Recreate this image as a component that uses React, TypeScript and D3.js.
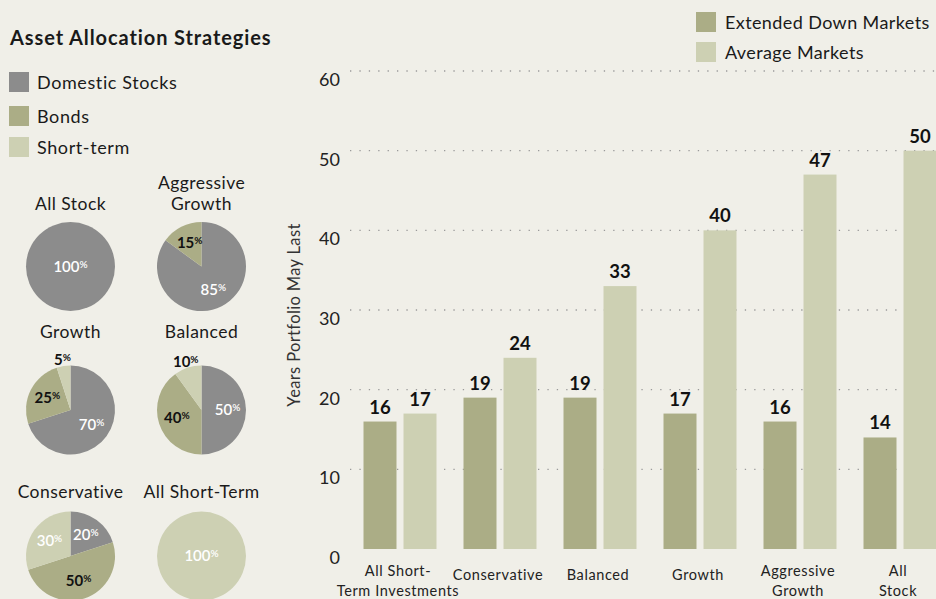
import React, { useRef, useEffect } from "react";
import * as d3 from "d3";

// bar chart data
const categoryLines = [
  ["All Short-", "Term Investments"],
  ["Conservative"],
  ["Balanced"],
  ["Growth"],
  ["Aggressive", "Growth"],
  ["All", "Stock"],
];
const categories = categoryLines.map((l) => l.join(" "));
const seriesNames = ["Extended Down Markets", "Average Markets"];
const extendedDown = [16, 19, 19, 17, 16, 14];
const averageMarkets = [17, 24, 33, 40, 47, 50];
const yTicks = [0, 10, 20, 30, 40, 50, 60];

// pie data
const assetClasses = ["Domestic Stocks", "Bonds", "Short-term"];
const strategyTitles = [
  ["All Stock"],
  ["Aggressive", "Growth"],
  ["Growth"],
  ["Balanced"],
  ["Conservative"],
  ["All Short-Term"],
];
const stockPct = [100, 85, 70, 50, 20, 0];
const bondPct = [0, 15, 25, 40, 50, 0];
const shortPct = [0, 0, 5, 10, 30, 100];

const STOCK = "#8c8c8c";
const BOND = "#abad86";
const SHORT = "#cdd0b3";
const BG = "#f0efe8";
const FONT = "Lato, 'Open Sans', sans-serif";

function App() {
  const svgRef = useRef<SVGSVGElement>(null);

  useEffect(() => {
    const svg = d3.select(svgRef.current);
    svg.selectAll("*").remove();
    const width = 936;
    const height = 599;

    svg.append("rect").attr("width", width).attr("height", height).attr("fill", BG);

    // ---------- left panel ----------
    const left = svg.append("g").attr("font-family", FONT).attr("fill", "#1a1a1a");
    left
      .append("text")
      .attr("x", 10)
      .attr("y", 45)
      .attr("font-size", 20)
      .attr("font-weight", 700)
      .attr("letter-spacing", 0.9)
      .text("Asset Allocation Strategies");

    const legendColor = d3.scaleOrdinal<string, string>().domain(assetClasses).range([STOCK, BOND, SHORT]);
    const legendTops = [72, 106, 137];
    assetClasses.forEach((name, i) => {
      left.append("rect").attr("x", 9).attr("y", legendTops[i]).attr("width", 20).attr("height", 20).attr("fill", legendColor(name));
      left
        .append("text")
        .attr("x", 37)
        .attr("y", legendTops[i] + 16.5)
        .attr("font-size", 18)
        .attr("letter-spacing", 0.6)
        .text(name);
    });

    const colX = [70.5, 201.5];
    const rowY = [266.5, 410, 556];
    const titleBase = [210, 338, 498];
    const r = 44.5;
    const pie = d3
      .pie<{ key: string; value: number }>()
      .sort(null)
      .value((d) => d.value);
    const arc = d3.arc<d3.PieArcDatum<{ key: string; value: number }>>().innerRadius(0).outerRadius(r);
    const inLabel = d3.arc<d3.PieArcDatum<{ key: string; value: number }>>().innerRadius(26).outerRadius(26);
    const outLabel = d3.arc<d3.PieArcDatum<{ key: string; value: number }>>().innerRadius(51).outerRadius(51);

    strategyTitles.forEach((title, i) => {
      const cx = colX[i % 2];
      const cy = rowY[Math.floor(i / 2)];
      const tb = titleBase[Math.floor(i / 2)];
      const t = left.append("text").attr("text-anchor", "middle").attr("font-size", 17.5).attr("letter-spacing", 0.45);
      title.forEach((line, j) => {
        t.append("tspan")
          .attr("x", cx)
          .attr("y", tb - (title.length - 1 - j) * 21)
          .text(line);
      });

      const slices = [
        { key: assetClasses[0], value: stockPct[i] },
        { key: assetClasses[1], value: bondPct[i] },
        { key: assetClasses[2], value: shortPct[i] },
      ];
      const g = left.append("g").attr("transform", `translate(${cx},${cy})`);
      const arcs = pie(slices).filter((d) => d.data.value > 0);
      g.selectAll("path")
        .data(arcs)
        .join("path")
        .attr("d", arc)
        .attr("fill", (d) => legendColor(d.data.key));

      arcs.forEach((d) => {
        let pos: [number, number];
        if (d.data.value === 100) pos = [0, 0];
        else if (d.data.value < 12) pos = outLabel.centroid(d);
        else pos = inLabel.centroid(d);
        const dark = d.data.key === "Bonds" || d.data.value < 12;
        const lbl = g
          .append("text")
          .attr("x", pos[0])
          .attr("y", pos[1] + 5)
          .attr("text-anchor", "middle")
          .attr("font-size", 15)
          .attr("font-weight", dark ? 700 : 600)
          .attr("fill", dark ? "#111" : "#fff");
        lbl.append("tspan").text(d.data.value);
        lbl.append("tspan").attr("font-size", 10).attr("dy", -4).text("%");
      });
    });

    // ---------- bar chart ----------
    const y = d3.scaleLinear().domain([0, 60]).range([549, 71]);
    const x0 = d3.scaleBand().domain(categories).range([350, 950]).paddingInner(0.27).paddingOuter(0.135);
    const x1 = d3.scaleBand().domain(seriesNames).range([0, x0.bandwidth()]).paddingInner(0.175);
    const barColor = d3.scaleOrdinal<string, string>().domain(seriesNames).range([BOND, SHORT]);

    const chart = svg.append("g").attr("font-family", FONT);

    // grid
    chart
      .selectAll(".grid")
      .data(yTicks.filter((t) => t > 0))
      .join("line")
      .attr("class", "grid")
      .attr("x1", 350)
      .attr("x2", width)
      .attr("y1", (d) => y(d))
      .attr("y2", (d) => y(d))
      .attr("stroke", "#9a9a9a")
      .attr("stroke-width", 1.3)
      .attr("stroke-dasharray", "1.3 8.1");

    // y tick labels
    chart
      .selectAll(".ytick")
      .data(yTicks)
      .join("text")
      .attr("class", "ytick")
      .attr("x", 340)
      .attr("y", (d) => y(d) + 15)
      .attr("text-anchor", "end")
      .attr("font-size", 18)
      .attr("fill", "#222")
      .text((d) => d);

    chart
      .append("text")
      .attr("transform", "translate(300,315) rotate(-90)")
      .attr("text-anchor", "middle")
      .attr("font-size", 16.5)
      .attr("letter-spacing", 0.35)
      .attr("fill", "#333")
      .text("Years Portfolio May Last");

    const rows = categories.map((c, i) => ({ cat: c, values: [extendedDown[i], averageMarkets[i]] }));
    const groups = chart
      .selectAll(".group")
      .data(rows)
      .join("g")
      .attr("class", "group")
      .attr("transform", (d) => `translate(${x0(d.cat)},0)`);

    groups
      .selectAll("rect")
      .data((d) => d.values.map((v, j) => ({ s: seriesNames[j], v })))
      .join("rect")
      .attr("x", (d) => x1(d.s)!)
      .attr("y", (d) => y(d.v))
      .attr("width", x1.bandwidth())
      .attr("height", (d) => y(0) - y(d.v))
      .attr("fill", (d) => barColor(d.s));

    groups
      .selectAll(".val")
      .data((d) => d.values.map((v, j) => ({ s: seriesNames[j], v })))
      .join("text")
      .attr("class", "val")
      .attr("x", (d) => x1(d.s)! + x1.bandwidth() / 2)
      .attr("y", (d) => y(d.v) - 8)
      .attr("text-anchor", "middle")
      .attr("font-size", 18.5)
      .attr("font-weight", 700)
      .attr("fill", "#111")
      .text((d) => d.v);

    // x labels
    categoryLines.forEach((lines, i) => {
      const cx = x0(categories[i])! + x0.bandwidth() / 2 - 2;
      const t = chart
        .append("text")
        .attr("text-anchor", "middle")
        .attr("font-size", 14.5)
        .attr("letter-spacing", 0.6)
        .attr("fill", "#222");
      lines.forEach((line, j) => {
        t.append("tspan")
          .attr("x", cx)
          .attr("y", lines.length === 1 ? 580 : 576 + j * 20)
          .text(line);
      });
    });

    // legend
    seriesNames.forEach((name, i) => {
      chart.append("rect").attr("x", 696).attr("y", 12 + i * 30).attr("width", 20).attr("height", 20).attr("fill", barColor(name));
      chart
        .append("text")
        .attr("x", 725)
        .attr("y", 29 + i * 30)
        .attr("font-size", 18)
        .attr("letter-spacing", 0.4)
        .attr("fill", "#1a1a1a")
        .text(name);
    });
  }, []);

  return (
    <div style={{ position: "absolute", left: 0, top: 0 }}>
      <svg ref={svgRef} width={936} height={599} style={{ display: "block" }} />
    </div>
  );
}

export default App;
